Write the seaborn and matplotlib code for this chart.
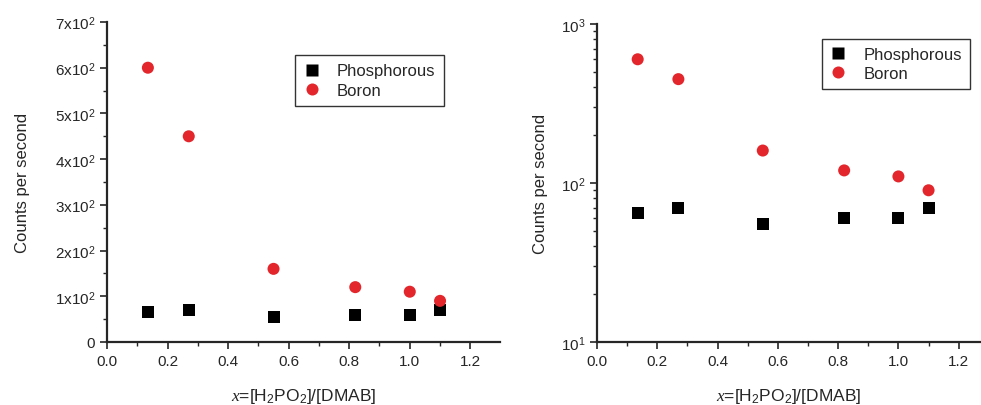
import pandas as pd
import matplotlib.pyplot as plt
import seaborn as sns
from matplotlib.ticker import MultipleLocator, FixedLocator, LogLocator, NullFormatter

# Dados
ratio = [0.135, 0.27, 0.55, 0.82, 1.0, 1.1]
phosphorous = [65, 70, 55, 60, 60, 70]
boron = [600, 450, 160, 120, 110, 90]
elements = ['Phosphorous', 'Boron']
y_ticks_lin = [0, 100, 200, 300, 400, 500, 600, 700]
y_labels_lin = ['0'] + [r'%dx10$^2$' % (v // 100) for v in y_ticks_lin[1:]]

df = pd.DataFrame({
    'x': ratio * 2,
    'cps': phosphorous + boron,
    'element': [elements[0]] * len(ratio) + [elements[1]] * len(ratio),
})

sns.set_style('ticks')
plt.rcParams['font.family'] = ['Liberation Sans', 'DejaVu Sans']
plt.rcParams['mathtext.fontset'] = 'custom'
plt.rcParams['mathtext.rm'] = 'Liberation Sans'
plt.rcParams['mathtext.it'] = 'Liberation Serif:italic'

palette = {'Phosphorous': 'black', 'Boron': '#e3262b'}
markers = {'Phosphorous': 's', 'Boron': 'o'}

fig = plt.figure(figsize=(9.81, 4.06), dpi=100)
ax1 = fig.add_axes([107 / 981, 63 / 406, 393 / 981, 320 / 406])
ax2 = fig.add_axes([597 / 981, 63 / 406, 384 / 981, 318 / 406])

xlabel = r'$x$=[H$_2$PO$_2$]/[DMAB]'

for ax in (ax1, ax2):
    sns.scatterplot(data=df, x='x', y='cps', hue='element', style='element',
                    palette=palette, markers=markers, s=75, edgecolor='none',
                    ax=ax)
    ax.set_xlim(0, 1.298 if ax is ax1 else 1.274)
    ax.xaxis.set_major_locator(MultipleLocator(0.2))
    ax.xaxis.set_minor_locator(MultipleLocator(0.1))
    ax.set_xlabel(xlabel, fontsize=12.5, labelpad=13)
    ax.set_ylabel('Counts per second', fontsize=12,
                  labelpad=18 if ax is ax1 else 9)
    sns.despine(ax=ax)
    for s in ('left', 'bottom'):
        ax.spines[s].set_linewidth(1.6)
    ax.tick_params(which='major', length=5, width=1.2, labelsize=11, direction='out')
    ax.tick_params(which='minor', length=3, width=1.0, direction='out')
    leg = ax.legend(title=None, fontsize=12, frameon=True, fancybox=False,
                    edgecolor='black', borderpad=0.5, handlelength=1.0,
                    handletextpad=1.0, labelspacing=0.25, markerscale=1.0)
    leg.get_frame().set_linewidth(1.0)

ax1.set_ylim(0, 700)
ax1.yaxis.set_major_locator(FixedLocator(y_ticks_lin))
ax1.set_yticklabels(y_labels_lin)
ax1.yaxis.set_minor_locator(MultipleLocator(50))
ax1.legend_.set_bbox_to_anchor((289 / 981, 1 - 107 / 406, 161 / 981, 51 / 406),
                               transform=fig.transFigure)
ax1.legend_._loc = 10

ax2.set_yscale('log')
ax2.set_ylim(10, 1000)
ax2.yaxis.set_major_locator(LogLocator(base=10))
ax2.yaxis.set_minor_locator(LogLocator(base=10, subs=range(2, 10)))
ax2.yaxis.set_minor_formatter(NullFormatter())
ax2.legend_.set_bbox_to_anchor((816 / 981, 1 - 90 / 406, 160 / 981, 50 / 406),
                               transform=fig.transFigure)
ax2.legend_._loc = 10

fig.savefig('out.png', dpi=100)
